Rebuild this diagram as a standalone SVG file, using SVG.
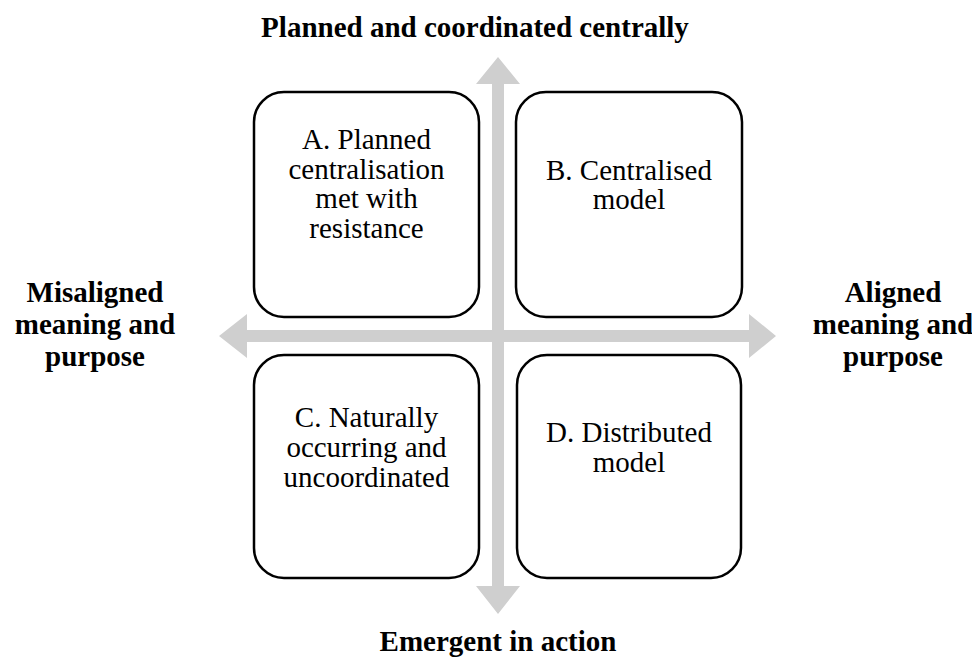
<svg xmlns="http://www.w3.org/2000/svg" width="972" height="660" viewBox="0 0 972 660">
<style>
.box{fill:#ffffff;stroke:#000000;stroke-width:2.5}
.arrow{fill:#cfcfcf;stroke:none}
.t{font-family:"Liberation Serif","Times New Roman",serif;font-size:29px;fill:#000;text-anchor:middle}
.b{font-family:"Liberation Serif","Times New Roman",serif;font-size:29px;font-weight:bold;fill:#000;text-anchor:middle}
</style>
<rect width="972" height="660" fill="#ffffff"/>
<g id="connectors">
<polygon class="arrow" points="498,57 520,84 504,84 504,586 520,586 498,614 476,586 492,586 492,84 476,84"/>
<polygon class="arrow" points="219,336 247,314 247,330 749,330 749,314 776,336 749,358 749,342 247,342 247,358"/>
</g>
<g id="nodeA">
<rect class="box" x="254" y="92" width="225" height="225" rx="30" ry="30"/>
<text class="t" x="366.5" y="149">A. Planned</text>
<text class="t" x="366.5" y="178.5">centralisation</text>
<text class="t" x="366.5" y="208">met with</text>
<text class="t" x="366.5" y="237.5">resistance</text>
</g>
<g id="nodeB">
<rect class="box" x="516" y="92" width="226" height="225" rx="30" ry="30"/>
<text class="t" x="629" y="180">B. Centralised</text>
<text class="t" x="629" y="209">model</text>
</g>
<g id="nodeC">
<rect class="box" x="254" y="355" width="225" height="223" rx="30" ry="30"/>
<text class="t" x="366.5" y="427">C. Naturally</text>
<text class="t" x="366.5" y="457">occurring and</text>
<text class="t" x="366.5" y="487">uncoordinated</text>
</g>
<g id="nodeD">
<rect class="box" x="517" y="355" width="224" height="223" rx="30" ry="30"/>
<text class="t" x="629" y="442">D. Distributed</text>
<text class="t" x="629" y="472">model</text>
</g>
<g id="labelTop">
<text class="b" x="475" y="37">Planned and coordinated centrally</text>
</g>
<g id="labelBottom">
<text class="b" x="498" y="651">Emergent in action</text>
</g>
<g id="labelLeft">
<text class="b" x="95" y="302">Misaligned</text>
<text class="b" x="95" y="334">meaning and</text>
<text class="b" x="95" y="366">purpose</text>
</g>
<g id="labelRight">
<text class="b" x="893" y="302">Aligned</text>
<text class="b" x="893" y="334">meaning and</text>
<text class="b" x="893" y="366">purpose</text>
</g>
</svg>
